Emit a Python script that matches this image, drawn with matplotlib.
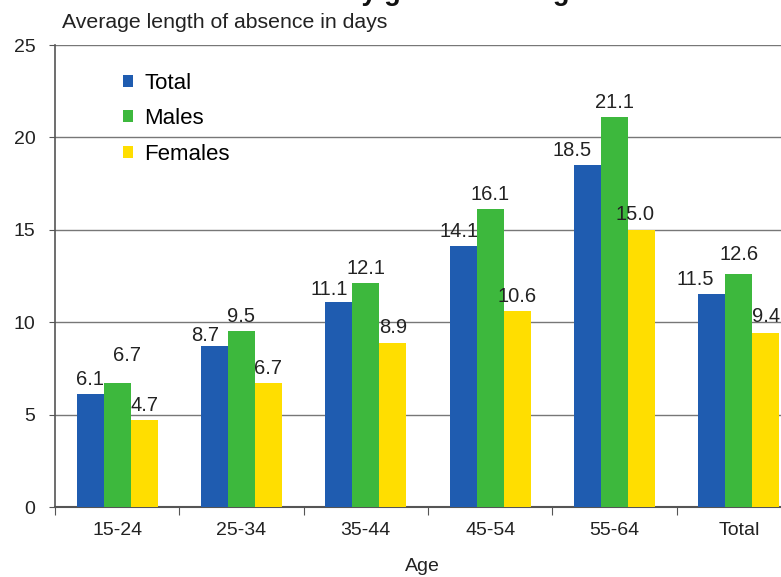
import matplotlib
matplotlib.use("Agg")
import matplotlib.pyplot as plt
import numpy as np

categories = ["15-24", "25-34", "35-44", "45-54", "55-64", "Total"]
series_names = ["Total", "Males", "Females"]
total = [6.1, 8.7, 11.1, 14.1, 18.5, 11.5]
males = [6.7, 9.5, 12.1, 16.1, 21.1, 12.6]
females = [4.7, 6.7, 8.9, 10.6, 15.0, 9.4]
yticks = [0, 5, 10, 15, 20, 25]

colors = ["#1f5cb0", "#3db83d", "#ffde00"]

# label nudges (points) to mimic the reference's collision-avoiding placement
label_dx = [[0, -7, -7, -3, -11, -12],
            [7, 0, 0, 0, 0, 0],
            [0, 0, 0, 0, -5, 0]]
label_dy = [[0, -3, -2, 0, 0, 0],
            [9, 0, 0, 0, 0, 3],
            [0, 0, 0, 0, 0, 1]]

plt.rcParams['font.family'] = ['Liberation Sans', 'DejaVu Sans']

FS = 14

fig = plt.figure(figsize=(7.81, 5.77), dpi=100)
ax = fig.add_axes([55/781, 70/577, 746/781, 462/577])

x = np.arange(len(categories))
w = 0.217
for i, (vals, name, c) in enumerate(zip([total, males, females], series_names, colors)):
    pos = x + (i - 1) * w
    ax.bar(pos, vals, width=w, color=c, label=name, zorder=3, linewidth=0)
    for j, (p, v) in enumerate(zip(pos, vals)):
        ax.annotate(f"{v:.1f}", (p, v), xytext=(label_dx[i][j], 4 + label_dy[i][j]),
                    textcoords="offset points",
                    ha="center", va="bottom", fontsize=14.5, color="#222222")

ax.set_xlim(-0.5, 5.5)
ax.set_ylim(0, 25)
ax.set_yticks(yticks)
ax.set_yticklabels([str(t) for t in yticks], fontsize=FS, color="#222222")
ax.set_xticks(np.arange(-0.5, 6.0, 1.0), minor=False)
ax.set_xticklabels([])
ax.set_xticks(x, minor=True)
ax.set_xticklabels(categories, minor=True, fontsize=FS, color="#222222")
ax.tick_params(axis='x', which='major', direction='out', length=6, color="#555555")
ax.tick_params(axis='x', which='minor', length=0, pad=11)
ax.tick_params(axis='y', direction='out', length=4, color="#555555", pad=10)

for y in yticks[1:]:
    ax.axhline(y, color="#777777", linewidth=1.0, zorder=1)

for s in ["top", "right"]:
    ax.spines[s].set_visible(False)
ax.spines["left"].set_color("#555555")
ax.spines["bottom"].set_color("#555555")
ax.spines["left"].set_linewidth(1.2)
ax.spines["bottom"].set_linewidth(1.5)

ax.set_xlabel("Age", fontsize=FS, color="#222222")
ax.xaxis.set_label_coords(0.493, -0.11)

fig.text(62/781, 1 - 22/577, "Average length of absence in days", fontsize=15.3,
         color="#222222", ha="left", va="center")

fig.text(345/781, 1.0, "by gender and age", fontsize=19.5, fontweight="bold",
         ha="left", va="baseline", color="#111111")
fig.text(339/781, 1.0, "Sickness absence", fontsize=19.5, fontweight="bold",
         ha="right", va="baseline", color="#111111")

ax.legend(loc="upper left", bbox_to_anchor=(0.0912, 0.94), frameon=False,
          fontsize=16, handlelength=0.45, handleheight=0.45, handletextpad=0.5,
          labelspacing=0.65, borderpad=0, borderaxespad=0)

fig.savefig("out.png", dpi=100)
